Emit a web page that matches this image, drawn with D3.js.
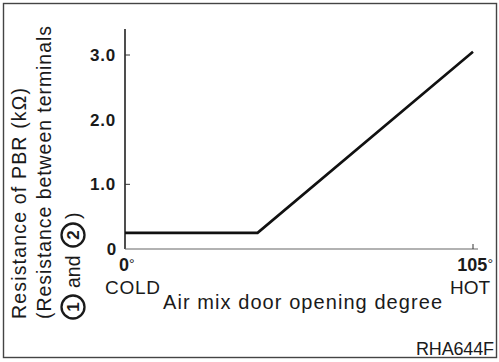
<!DOCTYPE html>
<html>
<head>
<meta charset="utf-8">
<script src="https://cdn.jsdelivr.net/npm/d3@7/dist/d3.min.js"></script>
<style>
  body { margin: 0; background: #fff; }
  svg text { font-family: "Liberation Sans", Arial, sans-serif; fill: #1a1a1a; }
</style>
</head>
<body>
<div id="chart"></div>
<script>
// door opening (deg) vs PBR resistance (kOhm)
var angles = [0, 40, 105];
var resist = [0.25, 0.25, 3.05];
var yTicks = [0, 1, 2, 3];
var yTickLabels = ["0", "1.0", "2.0", "3.0"];
var yTickMarks = [1, 3];
var xTicks = [0, 105];
var xTickLabels = ["0", "105"];
var xEndLabels = ["COLD", "HOT"];

var width = 499, height = 362;

var svg = d3.select("#chart").append("svg")
    .attr("width", width)
    .attr("height", height);

// outer frame
svg.append("rect")
    .attr("x", 3.5).attr("y", 3.5)
    .attr("width", 493).attr("height", 354)
    .attr("fill", "none")
    .attr("stroke", "#444")
    .attr("stroke-width", 1.4);

var x = d3.scaleLinear().domain([0, 105]).range([125, 473]);
var y = d3.scaleLinear().domain([0, 3]).range([249, 55]);

// axes lines
svg.append("line")
    .attr("x1", x(0)).attr("x2", x(0))
    .attr("y1", 29).attr("y2", y(0))
    .attr("stroke", "#222").attr("stroke-width", 1.6);
svg.append("line")
    .attr("x1", x(0)).attr("x2", 478)
    .attr("y1", y(0)).attr("y2", y(0))
    .attr("stroke", "#666").attr("stroke-width", 1.2);

// y ticks
svg.selectAll(".ytick")
    .data(yTickMarks)
    .enter().append("line")
    .attr("x1", x(0)).attr("x2", x(0) + 5)
    .attr("y1", function(d) { return y(d); })
    .attr("y2", function(d) { return y(d); })
    .attr("stroke", "#333").attr("stroke-width", 1);

svg.selectAll(".ylab")
    .data(yTicks)
    .enter().append("text")
    .attr("x", function(d) { return d === 0 ? 117 : 116; })
    .attr("y", function(d) { return y(d); })
    .attr("dy", "0.36em")
    .attr("text-anchor", "end")
    .style("font-weight", "bold")
    .style("font-size", "17px")
    .attr("letter-spacing", 0.8)
    .text(function(d, i) { return yTickLabels[i]; });

// x end tick
svg.append("line")
    .attr("x1", x(105)).attr("x2", x(105))
    .attr("y1", y(0)).attr("y2", y(0) - 5)
    .attr("stroke", "#333").attr("stroke-width", 1);

var xl = svg.selectAll(".xlab")
    .data(xTicks)
    .enter().append("text")
    .attr("x", function(d, i) { return i === 0 ? x(d) - 6 : 493; })
    .attr("y", 271)
    .attr("text-anchor", function(d, i) { return i === 0 ? "start" : "end"; })
    .style("font-size", "18px");
xl.append("tspan")
    .style("font-weight", "bold")
    .text(function(d, i) { return xTickLabels[i]; });
xl.append("tspan")
    .attr("dy", -2)
    .style("font-size", "14px")
    .text("°");

svg.selectAll(".xend")
    .data(xTicks)
    .enter().append("text")
    .attr("x", function(d, i) { return i === 0 ? 105 : 490; })
    .attr("y", 294)
    .attr("text-anchor", function(d, i) { return i === 0 ? "start" : "end"; })
    .style("font-size", "19px")
    .attr("textLength", function(d, i) { return i === 0 ? 55 : 40; })
    .text(function(d, i) { return xEndLabels[i]; });

svg.append("text")
    .attr("x", 163).attr("y", 309)
    .style("font-size", "20px")
    .attr("textLength", 279)
    .text("Air mix door opening degree");

svg.append("text")
    .attr("x", 494).attr("y", 355)
    .attr("text-anchor", "end")
    .style("font-size", "18px")
    .attr("textLength", 78)
    .text("RHA644F");

// the curve
var line = d3.line()
    .x(function(d, i) { return x(angles[i]); })
    .y(function(d) { return y(d); });

svg.append("path")
    .datum(resist)
    .attr("d", line)
    .attr("fill", "none")
    .attr("stroke", "#111")
    .attr("stroke-width", 2.6);

// rotated y title
var yt = svg.append("g").attr("transform", "translate(0,319) rotate(-90)");

yt.append("text")
    .attr("x", 0).attr("y", 26)
    .style("font-size", "19.5px")
    .attr("textLength", 231)
    .text("Resistance of PBR (kΩ)");

yt.append("text")
    .attr("x", 0).attr("y", 51)
    .style("font-size", "19.5px")
    .attr("textLength", 293)
    .text("(Resistance between terminals");

var l3 = yt.append("g").attr("transform", "translate(0,73)");
[["1", 12], ["2", 84]].forEach(function(c) {
  l3.append("circle")
      .attr("cx", c[1]).attr("cy", 0).attr("r", 11.5)
      .attr("fill", "none").attr("stroke", "#1a1a1a").attr("stroke-width", 2.3);
  l3.append("text")
      .attr("x", c[1]).attr("y", 0).attr("dy", "0.36em")
      .attr("text-anchor", "middle")
      .style("font-weight", "bold").style("font-size", "17px")
      .text(c[0]);
});
l3.append("text").attr("x", 31).attr("y", 6.5).style("font-size", "19.5px").text("and");
l3.append("text").attr("x", 100).attr("y", 6.5).style("font-size", "19.5px").text(")");
</script>
</body>
</html>
